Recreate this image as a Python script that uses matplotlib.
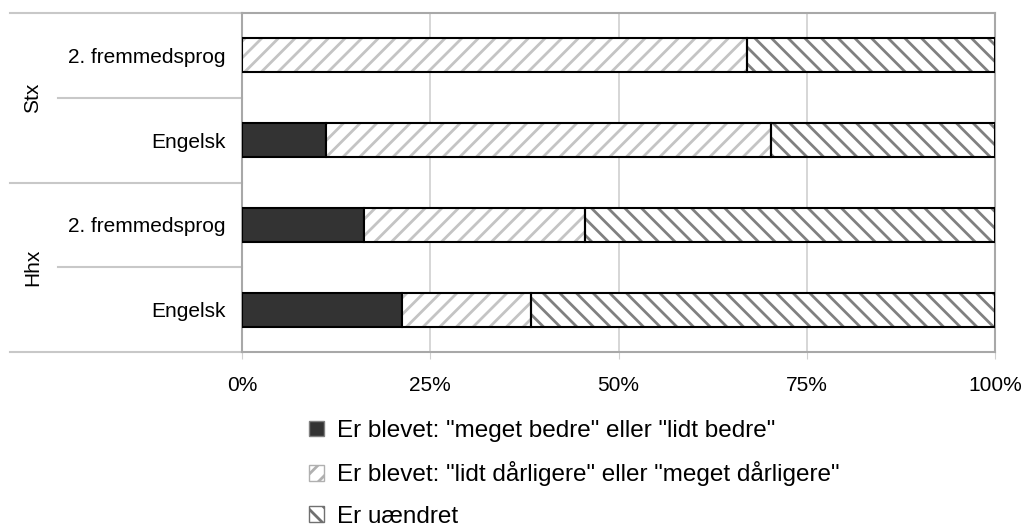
import numpy as np
import matplotlib
matplotlib.use('Agg')
from matplotlib import pyplot as plt
from matplotlib.patches import Patch

# rows from bottom to top
groups = ['Hhx', 'Stx']
subjects = ['Engelsk', '2. fremmedsprog', 'Engelsk', '2. fremmedsprog']
bedre = [21.2, 16.2, 11.2, 0.0]
daarligere = [17.2, 29.4, 59.1, 67.0]
uaendret = [61.6, 54.4, 29.7, 33.0]
labels = ['Er blevet: "meget bedre" eller "lidt bedre"',
          'Er blevet: "lidt dårligere" eller "meget dårligere"',
          'Er uændret']
xticks = [0, 25, 50, 75, 100]

plt.rcParams['font.family'] = ['Liberation Sans', 'DejaVu Sans']
plt.rcParams['hatch.linewidth'] = 2.0

fig = plt.figure(figsize=(10.24, 5.32), dpi=100)
ax = fig.add_axes([242/1024, 1-352/532, 753/1024, 339/532])

y = np.arange(len(subjects))
h = 0.4
b1 = np.array(bedre)
b2 = b1 + np.array(daarligere)

ax.barh(y, bedre, height=h, color='#333333', edgecolor='black', lw=1.5, zorder=3)
ax.barh(y, daarligere, left=b1, height=h, color='white', edgecolor='#c4c4c4',
        hatch='//', lw=0, zorder=3)
ax.barh(y, daarligere, left=b1, height=h, fill=False, edgecolor='black', lw=1.5, zorder=4)
ax.barh(y, uaendret, left=b2, height=h, color='white', edgecolor='#808080',
        hatch='\\\\', lw=0, zorder=3)
ax.barh(y, uaendret, left=b2, height=h, fill=False, edgecolor='black', lw=1.5, zorder=4)

ax.set_xlim(0, 100)
ax.set_ylim(-0.5, len(subjects) - 0.5)
ax.set_xticks(xticks)
ax.set_xticklabels(['%d%%' % t for t in xticks], fontsize=15)
ax.set_yticks(y)
ax.set_yticklabels(subjects, fontsize=15)
ax.tick_params(axis='y', length=0, pad=12)
ax.tick_params(axis='x', length=5, color='#d0d0d0', pad=12)
ax.grid(axis='x', color='#d0d0d0', lw=1.2, zorder=0)
for s in ax.spines.values():
    s.set_color('#a8a8a8')
    s.set_linewidth(1.5)

# group separators and labels on the left
tr = ax.get_yaxis_transform()
for yy in [-0.5, 1.5, 3.5]:
    ax.plot([-0.308, 0], [yy, yy], transform=tr, color='#c8c8c8', lw=1.5, clip_on=False)
for yy in [0.5, 2.5]:
    ax.plot([-0.244, 0], [yy, yy], transform=tr, color='#c8c8c8', lw=1.5, clip_on=False)
for i, g in enumerate(groups):
    ax.text(-0.278, 2*i + 0.5, g, transform=tr, rotation=90, fontsize=15,
            ha='center', va='center')

handles = [Patch(facecolor='#333333', edgecolor='#808080'),
           Patch(facecolor='white', edgecolor='#b0b0b0', hatch='//'),
           Patch(facecolor='white', edgecolor='#707070', hatch='\\\\')]
fig.legend(handles, labels, loc='upper left', bbox_to_anchor=(309/1024, 1-420/532),
           frameon=False, fontsize=17.5, handlelength=0.62, handleheight=0.62,
           handletextpad=0.55, labelspacing=0.8, borderpad=0, borderaxespad=0)

fig.savefig('out.png', dpi=100)
